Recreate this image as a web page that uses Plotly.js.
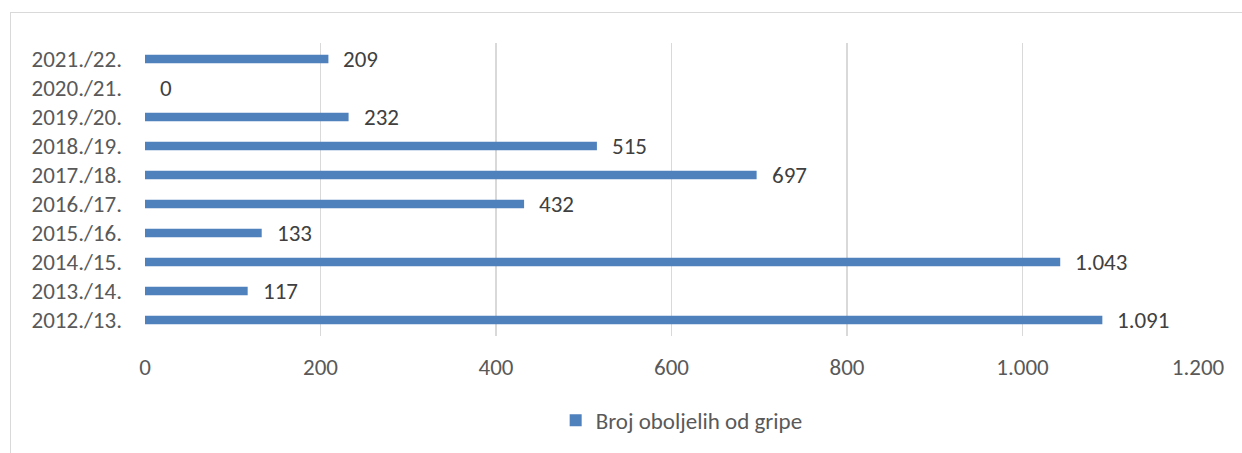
<!DOCTYPE html>
<html>
<head>
<meta charset="utf-8">
<script src="https://cdn.plot.ly/plotly-3.0.1.min.js"></script>
<style>
html,body{margin:0;padding:0;background:#fff;width:1242px;height:453px;overflow:hidden;}
#frame{position:absolute;left:10px;top:12px;width:1240px;height:450px;border-left:1px solid #d9d9d9;border-top:1px solid #d9d9d9;}
#chart{position:absolute;left:0;top:0;width:1232px;height:441px;}
</style>
</head>
<body>
<div id="frame"><div id="chart"></div></div>
<script>
const seasons = ["2012./13.","2013./14.","2014./15.","2015./16.","2016./17.","2017./18.","2018./19.","2019./20.","2020./21.","2021./22."];
const cases = [1091,117,1043,133,432,697,515,232,0,209];
const seriesName = "Broj oboljelih od gripe";
const xTicks = [0,200,400,600,800,1000,1200];

function fmt(v){return String(v).replace(/\B(?=(\d{3})+(?!\d))/g,".");}

const font = "Carlito, Calibri, Lato, 'Liberation Sans', sans-serif";
const txtColor = "#595959";
const fs = 23;

const trace = {
  type:"bar", orientation:"h",
  x:cases, y:seasons, name:seriesName,
  marker:{color:"#4f81bd"},
  width:0.3,
  hoverinfo:"skip"
};

const annotations = seasons.map((s,i)=>({
  x:cases[i], y:s, xref:"x", yref:"y",
  text:fmt(cases[i]), showarrow:false,
  xanchor:"left", yanchor:"middle", xshift:13, yshift:0,
  font:{family:font,size:fs,color:"#404040"}
}));

const layout = {
  width:1232, height:441,
  margin:{l:134.3,r:45.3,t:30,b:116},
  paper_bgcolor:"#fff", plot_bgcolor:"#fff",
  separators:",.",
  font:{family:font,size:fs,color:txtColor},
  xaxis:{
    range:[0,1200], tickvals:xTicks, tickformat:",d",
    showgrid:true, gridcolor:"#d9d9d9", gridwidth:1.5,
    zeroline:false, showline:false, ticks:"", ticklabelstandoff:15,
    tickfont:{family:font,size:fs,color:txtColor}, fixedrange:true
  },
  yaxis:{
    type:"category", categoryorder:"array", categoryarray:seasons,
    showgrid:false, zeroline:false, showline:false, ticks:"", ticklabelstandoff:22,
    tickfont:{family:font,size:fs,color:txtColor}, fixedrange:true
  },
  showlegend:true,
  legend:{orientation:"h", x:0.39, xanchor:"left", y:-0.288, yanchor:"middle",
    font:{family:font,size:fs,color:txtColor}, itemwidth:30},
  annotations:annotations
};

Plotly.newPlot("chart",[trace],layout,{displayModeBar:false,staticPlot:true});
</script>
</body>
</html>
